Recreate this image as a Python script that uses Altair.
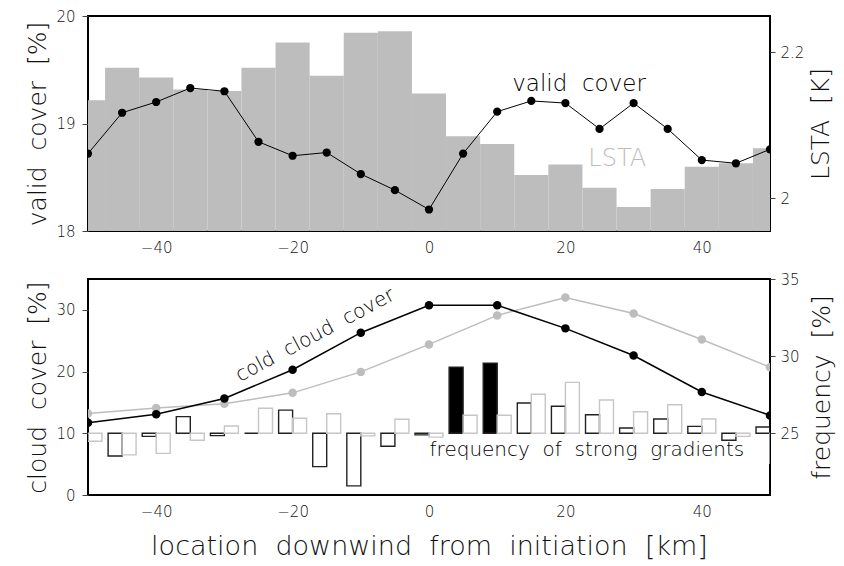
import altair as alt
import pandas as pd

# ---------------- data ----------------
km_fine = list(range(-50, 55, 5))          # 21 positions (top panel + bars)
valid_cover = [18.72, 19.10, 19.20, 19.33, 19.30, 18.83, 18.70, 18.73, 18.53, 18.38, 18.20,
               18.72, 19.11, 19.21, 19.19, 18.95, 19.19, 18.95, 18.66, 18.63, 18.76]
lsta = [2.1345, 2.179, 2.1655, 2.149, 2.147, 2.179, 2.2136, 2.168, 2.227, 2.229, 2.1437,
        2.085, 2.0745, 2.032, 2.0464, 2.0145, 1.988, 2.0127, 2.043, 2.048, 2.0686]

km_coarse = list(range(-50, 60, 10))       # 11 positions (bottom lines)
cold_cloud = [11.7, 13.1, 15.65, 20.3, 26.3, 30.75, 30.75, 27.0, 22.6, 16.7, 12.9]
gray_cloud = [13.2, 14.1, 14.8, 16.55, 19.95, 24.4, 29.1, 32.0, 29.4, 25.2, 20.7]

freq_black = [25.0, 23.53, 24.8, 26.08, 24.85, 25.0, 26.5, 22.84, 21.59, 24.16, 24.9,
              29.29, 29.55, 26.96, 26.75, 26.2, 25.34, 25.93, 25.45, 24.55, 25.41]
freq_gray = [24.48, 23.6, 23.7, 24.55, 25.47, 26.62, 25.97, 26.27, 24.83, 25.91, 24.75,
             26.17, 26.17, 27.53, 28.3, 27.16, 26.4, 26.85, 25.93, 24.8, 23.06]
significant = [0, 0, 0, 0, 0, 0, 0, 0, 0, 0, 0, 1, 1, 0, 0, 0, 0, 0, 0, 0, 0]

x_ticks = [-40, -20, 0, 20, 40]

FONT = "DejaVu Sans"
FW = 200
GRAY = "#bdbdbd"
LSTA_MIN, LSTA_MAX = 1.955, 2.25
FREQ_BASE = 25
X_TITLE = "location\u00a0\u00a0downwind\u00a0\u00a0from\u00a0\u00a0initiation\u00a0\u00a0[km]"

# ---------------- frames ----------------
top_df = pd.DataFrame({"km": km_fine, "valid": valid_cover, "lsta": lsta})
top_df["x0"] = top_df["km"] - 2.5
top_df["x1"] = top_df["km"] + 2.5

line_df = pd.DataFrame({"km": km_coarse, "cold": cold_cloud, "gray": gray_cloud})

bar_df = pd.DataFrame({"km": km_fine, "fb": freq_black, "fg": freq_gray, "sig": significant})
bar_df["b0"] = bar_df["km"] - 2.05
bar_df["g1"] = bar_df["km"] + 2.05

one = pd.DataFrame({"a": [0]})


def xscale():
    return alt.Scale(domain=[-50, 50], nice=False, zero=False)


def yscale(lo, hi):
    return alt.Scale(domain=[lo, hi], nice=False, zero=False)


COMMON = dict(grid=False, domain=False, labelOverlap=False, labelFontSize=15,
              labelFont=FONT, labelFontWeight=FW, labelColor="#111", titleFont=FONT,
              titleFontWeight=FW, titleColor="#111")


def x_axis(title=""):
    return alt.Axis(orient="bottom", values=x_ticks, title=title, ticks=True, tickSize=0,
                    labelPadding=9, titleFontSize=27, titlePadding=14, tickCount=20,
                    **COMMON)


def left_axis(title, values=None, count=None):
    kw = dict(orient="left", title=title, format="d", tickSize=6, tickColor="#444",
              labelPadding=7, titleFontSize=25, titlePadding=5, **COMMON)
    if values is not None:
        kw["values"] = values
        kw["tickCount"] = 20
    if count is not None:
        kw["tickCount"] = count
    return alt.Axis(**kw)


def right_axis(values, title, tpad=5):
    return alt.Axis(orient="right", values=values, title=title, format="~g", tickSize=5,
                    tickColor="#444", labelPadding=5, titleFontSize=25, titleAngle=270,
                    titleBaseline="top", titlePadding=tpad, tickCount=20, **COMMON)


# ---------------- top panel ----------------
XT = x_axis("")

lsta_bars = alt.Chart(top_df).mark_bar(color=GRAY, clip=True).encode(
    x=alt.X("x0:Q", scale=xscale(), axis=XT),
    x2="x1",
    y=alt.Y("lsta:Q", scale=yscale(LSTA_MIN, LSTA_MAX),
            axis=right_axis([2, 2.2], "LSTA\u00a0\u00a0[K]")),
    y2=alt.datum(LSTA_MIN),
)
vc_line = alt.Chart(top_df).mark_line(color="black", strokeWidth=1, clip=True).encode(
    x=alt.X("km:Q", scale=xscale(), axis=XT),
    y=alt.Y("valid:Q", scale=yscale(18, 20),
            axis=left_axis("valid\u00a0\u00a0cover\u00a0\u00a0[%]", count=2)),
)
vc_pts = alt.Chart(top_df).mark_circle(color="black", size=68, opacity=1, clip=True).encode(
    x=alt.X("km:Q", scale=xscale(), axis=XT),
    y=alt.Y("valid:Q", scale=yscale(18, 20), axis=None),
)
txt_valid = alt.Chart(one).mark_text(text="valid\u00a0\u00a0cover", font=FONT, fontSize=23,
                                     fontWeight=FW, color="black", align="center",
                                     baseline="middle").encode(
    x=alt.XDatum(22.0, scale=xscale(), axis=XT),
    y=alt.YDatum(19.363, scale=yscale(18, 20), axis=None))
txt_lsta = alt.Chart(one).mark_text(text="LSTA", font=FONT, fontSize=24, fontWeight=FW,
                                    color=GRAY, align="center", baseline="middle").encode(
    x=alt.XDatum(27.6, scale=xscale(), axis=XT),
    y=alt.YDatum(18.667, scale=yscale(18, 20), axis=None))

top = alt.layer(lsta_bars, vc_line, vc_pts, txt_valid, txt_lsta).resolve_scale(
    y="independent").properties(width=682, height=215)

# ---------------- bottom panel ----------------
XB = x_axis(X_TITLE)

black_bars = alt.Chart(bar_df).mark_bar(stroke="#222", strokeWidth=1.4, clip=True).encode(
    x=alt.X("b0:Q", scale=xscale(), axis=XB),
    x2="km",
    y=alt.Y("fb:Q", scale=yscale(21, 35),
            axis=right_axis([25, 30, 35], "frequency\u00a0\u00a0[%]", tpad=10)),
    y2=alt.datum(FREQ_BASE),
    fill=alt.condition("datum.sig == 1", alt.value("black"), alt.value("transparent")),
)
gray_bars = alt.Chart(bar_df).mark_bar(stroke="#c6c6c6", strokeWidth=1.4, fillOpacity=0,
                                       clip=True).encode(
    x=alt.X("km:Q", scale=xscale(), axis=XB),
    x2="g1",
    y=alt.Y("fg:Q", scale=yscale(21, 35), axis=None),
    y2=alt.datum(FREQ_BASE),
)
gray_line = alt.Chart(line_df).mark_line(color=GRAY, strokeWidth=1.5, clip=True).encode(
    x=alt.X("km:Q", scale=xscale(), axis=XB),
    y=alt.Y("gray:Q", scale=yscale(0, 35),
            axis=left_axis("cloud\u00a0\u00a0cover\u00a0\u00a0[%]", values=[0, 10, 20, 30])),
)
gray_pts = alt.Chart(line_df).mark_circle(color=GRAY, size=72, opacity=1, clip=True).encode(
    x=alt.X("km:Q", scale=xscale(), axis=XB),
    y=alt.Y("gray:Q", scale=yscale(0, 35), axis=None),
)
cold_line = alt.Chart(line_df).mark_line(color="black", strokeWidth=1.5, clip=True).encode(
    x=alt.X("km:Q", scale=xscale(), axis=XB),
    y=alt.Y("cold:Q", scale=yscale(0, 35), axis=None),
)
cold_pts = alt.Chart(line_df).mark_circle(color="black", size=72, opacity=1, clip=True).encode(
    x=alt.X("km:Q", scale=xscale(), axis=XB),
    y=alt.Y("cold:Q", scale=yscale(0, 35), axis=None),
)
txt_cold = alt.Chart(one).mark_text(text="cold\u00a0\u00a0cloud\u00a0\u00a0cover", font=FONT,
                                    fontSize=20, fontWeight=FW, color="black",
                                    align="center", baseline="middle", angle=332).encode(
    x=alt.XDatum(-16.7, scale=xscale(), axis=XB),
    y=alt.YDatum(25.9, scale=yscale(0, 35), axis=None))
txt_freq = alt.Chart(one).mark_text(text="frequency\u00a0\u00a0of\u00a0\u00a0strong\u00a0\u00a0gradients",
                                    font=FONT, fontSize=20, fontWeight=FW, color="black",
                                    align="center", baseline="middle").encode(
    x=alt.XDatum(23.15, scale=xscale(), axis=XB),
    y=alt.YDatum(7.28, scale=yscale(0, 35), axis=None))

bottom = alt.layer(black_bars, gray_bars, gray_line, gray_pts, cold_line, cold_pts,
                   txt_cold, txt_freq).resolve_scale(
    y="independent").properties(width=682, height=216)

chart = alt.vconcat(top, bottom, spacing=15).properties(
    padding={"left": 16, "top": 0, "right": 0, "bottom": 0},
    background="white",
).configure_view(stroke="black", strokeWidth=2)

chart.save("out.html", embed_options={"renderer": "svg", "actions": False})
